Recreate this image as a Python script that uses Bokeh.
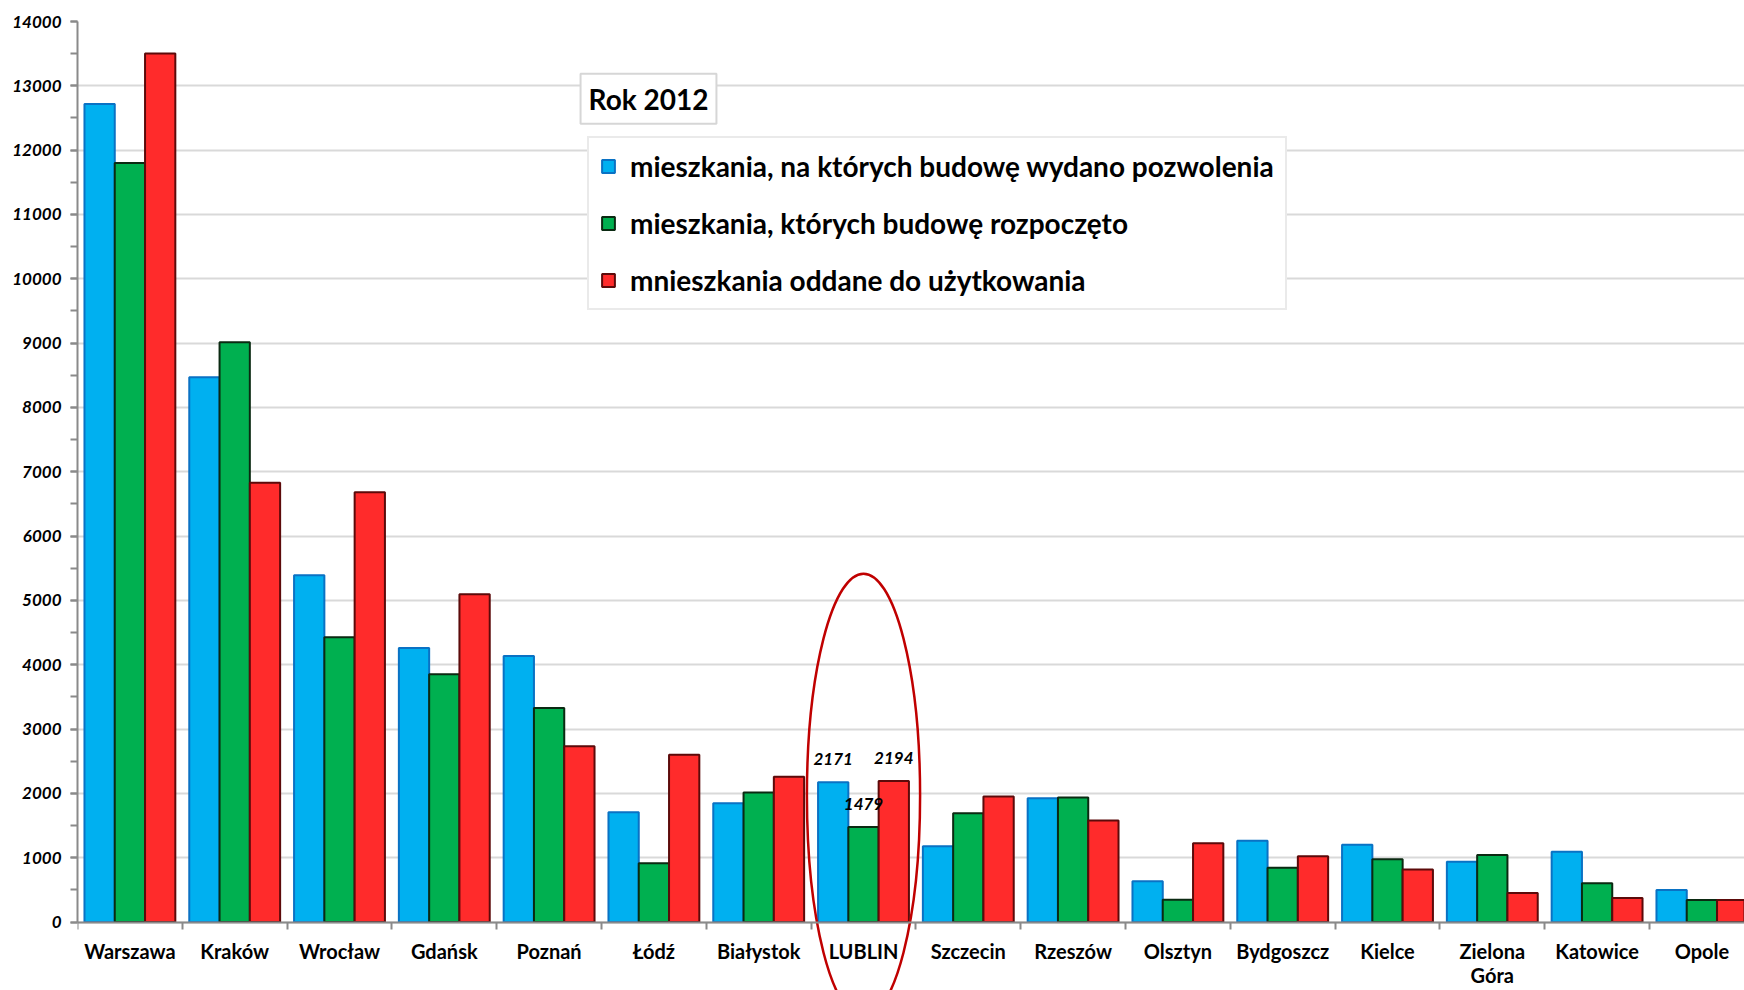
from bokeh.plotting import figure
from bokeh.models import (Range1d, FixedTicker, SingleIntervalTicker, NumeralTickFormatter,
                          ColumnDataSource, Legend, LegendItem, Label)
from bokeh.core.properties import value
from bokeh.embed import file_html
from bokeh.resources import INLINE

cities = ["Warszawa", "Kraków", "Wrocław", "Gdańsk", "Poznań", "Łódź", "Białystok", "LUBLIN",
          "Szczecin", "Rzeszów", "Olsztyn", "Bydgoszcz", "Kielce", "Zielona\nGóra", "Katowice", "Opole"]
permits = [12716, 8470, 5390, 4261, 4137, 1707, 1847, 2171, 1178, 1925, 634, 1262, 1200, 938, 1093, 498]
started = [11799, 9015, 4426, 3851, 3329, 914, 2013, 1479, 1692, 1935, 345, 842, 976, 1042, 602, 342]
completed = [13502, 6828, 6680, 5094, 2733, 2600, 2258, 2194, 1951, 1578, 1225, 1023, 816, 451, 373, 342]
series_names = ["mieszkania, na których budowę wydano pozwolenia",
                "mieszkania, których budowę rozpoczęto",
                "mnieszkania oddane do użytkowania"]
title_text = "Rok 2012"
highlight = "LUBLIN"

FONT = "Lato"
fills = ["#00B0F0", "#00B050", "#FF2B2B"]
lines = ["#0A72C4", "#0B2A12", "#5C0A0A"]

W, H = 1744, 990
LEFT, TOP = 77, 21
FRAME_W = W - LEFT
CAT_PX = 104.8
PX_PER_UNIT = 64.34 / 1000.0
ZERO_PX = 921.5            # screen y of value 0
x_end = FRAME_W / CAT_PX
y_top = 14000
y_bottom = -(H - ZERO_PX) / PX_PER_UNIT

p = figure(width=W, height=H, x_range=Range1d(0, x_end), y_range=Range1d(y_bottom, y_top),
           output_backend="svg", toolbar_location=None,
           min_border_left=LEFT, min_border_right=0, min_border_top=TOP, min_border_bottom=0)
p.outline_line_color = None
p.background_fill_color = "white"
p.border_fill_color = "white"

n = len(cities)
centers = [i + 0.5 for i in range(n)]
bw = 0.289
offsets = [-bw, 0.0, bw]
renderers = []
for vals, off, fc, lc in zip([permits, started, completed], offsets, fills, lines):
    src = ColumnDataSource(dict(x=[c + off for c in centers], top=vals))
    r = p.vbar(x="x", top="top", width=bw, bottom=0, source=src,
               fill_color=fc, line_color=lc, line_width=2)
    renderers.append(r)

# grid
p.xgrid.visible = False
p.ygrid.grid_line_color = "#d9d9d9"
p.ygrid.grid_line_width = 2
p.ygrid.ticker = SingleIntervalTicker(interval=1000)
p.ygrid.bounds = (0, y_top)

# y axis
ya = p.yaxis[0]
ya.ticker = SingleIntervalTicker(interval=1000, num_minor_ticks=2)
ya.formatter = NumeralTickFormatter(format="0")
ya.bounds = (0, y_top)
ya.axis_line_color = "#8a8a8a"
ya.axis_line_width = 2
ya.major_tick_line_color = "#8a8a8a"
ya.major_tick_line_width = 2
ya.major_tick_out = 7
ya.major_tick_in = 0
ya.minor_tick_line_color = "#8a8a8a"
ya.minor_tick_line_width = 2
ya.minor_tick_out = 7
ya.minor_tick_in = 0
ya.major_label_text_font = FONT
ya.major_label_text_font_style = "bold italic"
ya.major_label_text_font_size = "17px"
ya.major_label_text_color = "black"
ya.major_label_standoff = 9

# x axis (drawn at value 0 inside the frame)
xa = p.xaxis[0]
xa.fixed_location = 0
xa.ticker = FixedTicker(ticks=centers, minor_ticks=list(range(n + 1)))
xa.major_label_overrides = {c: name for c, name in zip(centers, cities)}
xa.axis_line_color = "#8a8a8a"
xa.axis_line_width = 2
xa.major_tick_line_color = None
xa.major_tick_out = 0
xa.major_tick_in = 0
xa.minor_tick_line_color = "#8a8a8a"
xa.minor_tick_line_width = 2
xa.minor_tick_out = 7
xa.minor_tick_in = 0
xa.major_label_text_font = FONT
xa.major_label_text_font_style = "bold"
xa.major_label_text_font_size = "20px"
xa.major_label_text_color = "black"
xa.major_label_text_line_height = 1.0
xa.major_label_standoff = 10

# value labels for highlighted city
hi = cities.index(highlight)
lab_src = ColumnDataSource(dict(
    x=[centers[hi] + o for o in offsets],
    y=[permits[hi], started[hi], completed[hi]],
    t=[str(permits[hi]), str(started[hi]), str(completed[hi])]))
p.text(x="x", y="y", text="t", source=lab_src, text_align="center", text_baseline="middle",
       y_offset=-23, text_font=value(FONT), text_font_style="bold italic",
       text_font_size="17px", text_color="black")

# ellipse around highlighted city
p.ellipse(x=[centers[hi]], y=[1966], width=[1.08], height=[6900],
          fill_color=None, line_color="#C00000", line_width=2.5)

# legend
legend = Legend(items=[LegendItem(label=nm, renderers=[r]) for nm, r in zip(series_names, renderers)],
                location=(510, H - 310), orientation="vertical",
                label_text_font=FONT, label_text_font_style="bold", label_text_font_size="28px",
                label_text_color="black", glyph_width=16, glyph_height=16, label_standoff=14,
                label_height=30, spacing=23, padding=11, margin=0,
                border_line_color="#d6d6d6", border_line_width=2, background_fill_color="white",
                background_fill_alpha=1)
p.add_layout(legend)

# title box
p.add_layout(Label(x=(648 - LEFT) / CAT_PX, y=(ZERO_PX - 98) / PX_PER_UNIT, text=title_text,
                   text_align="center", text_baseline="middle", text_font=FONT,
                   text_font_style="bold", text_font_size="28px", text_color="black",
                   border_line_color="#d6d6d6", border_line_width=2,
                   background_fill_color="white", padding=8))

open("out.html", "w").write(file_html(p, INLINE))
